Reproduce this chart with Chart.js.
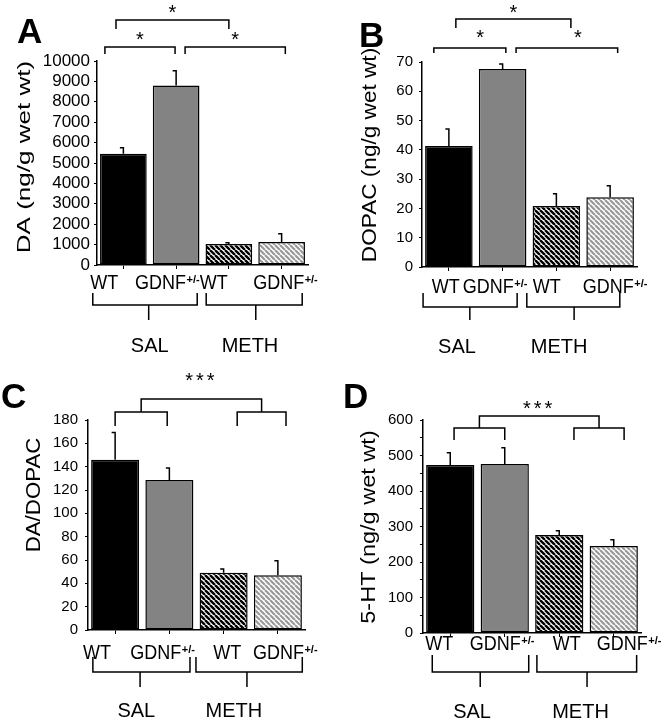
<!DOCTYPE html>
<html>
<head>
<meta charset="utf-8">
<script src="https://cdn.jsdelivr.net/npm/chart.js@4.4.1/dist/chart.umd.min.js"></script>
<style>
  html, body { margin: 0; padding: 0; background: #fff; }
  #fig { position: relative; width: 670px; height: 719px; }
  #fig canvas { position: absolute; }
</style>
</head>
<body>
<div id="fig">
  <canvas id="cA" width="335" height="360" style="left:0;top:0"></canvas>
  <canvas id="cB" width="335" height="360" style="left:335px;top:0"></canvas>
  <canvas id="cC" width="335" height="359" style="left:0;top:360px"></canvas>
  <canvas id="cD" width="335" height="359" style="left:335px;top:360px"></canvas>
</div>
<script>
// groups along the x axis, then the two treatments under them
const categories = ['WT', 'GDNF+/-', 'WT', 'GDNF+/-'];
const treatments = ['SAL', 'METH'];

// bar heights and (upper) SEM
const daMean = [5450, 8800, 1030, 1130];
const daSem = [330, 760, 100, 440];
const dopacMean = [41.3, 67.6, 20.8, 23.8];
const dopacSem = [6.1, 2, 4.5, 4.2];
const ratioMean = [146, 128.5, 49, 47];
const ratioSem = [24, 11, 4, 13];
const htMean = [473, 476, 276, 245];
const htSem = [37, 48, 14, 20];

const letters = ['A', 'B', 'C', 'D'];
const yTitles = ['DA (ng/g wet wt)', 'DOPAC (ng/g wet wt)', 'DA/DOPAC', '5-HT (ng/g wet wt)'];
const yMax = [10000, 70, 180, 600];
const yStep = [1000, 10, 20, 50];
const yLabelStep = [1000, 10, 20, 100];

const means = [daMean, dopacMean, ratioMean, htMean];
const sems = [daSem, dopacSem, ratioSem, htSem];

const FONT = '"Liberation Sans", Arial, sans-serif';

// per-panel layout (canvas pixels / category index units)
const panels = [
  { canvas: 'cA', w: 335, h: 360, area: { l: 97, r: 308, t: 61, b: 265 },
    tickFont: 17, tickPad: 4, letter: [17, 43],
    title: { x: 25, y: 157, size: 19, sx: 1.37 },
    sig: [
      { a: -0.14, b: 2.0, y: -41, drop: 9, star: '*', sy: -54 },
      { a: -0.35, b: 0.98, y: -14, drop: 7, star: '*', sy: -27 },
      { a: 1.17, b: 3.07, y: -14, drop: 7, star: '*', sy: -27 }
    ],
    xl: { pos: [-0.63, 0.22, 1.45, 2.46], cy: 17 },
    grp: { top: 28, bot: 40, stem: 55, text: 80,
      items: [{ a: -0.58, b: 1.40, s: 0.48, t: 0.50 }, { a: 1.57, b: 3.39, s: 2.51, t: 2.40 }] } },
  { canvas: 'cB', w: 335, h: 360, area: { l: 87, r: 302, t: 62, b: 267 },
    tickFont: 15, tickPad: 6, letter: [24, 47],
    title: { x: 35.5, y: 155, size: 20, sx: 1.13 },
    sig: [
      { a: 0.13, b: 2.27, y: -43, drop: 9, star: '*', sy: -55 },
      { a: -0.28, b: 1.06, y: -14, drop: 5, star: '*', sx: 0.58, sy: -30 },
      { a: 1.25, b: 3.14, y: -14, drop: 5, star: '*', sx: 2.40, sy: -30 }
    ],
    xl: { pos: [-0.32, 0.26, 1.56, 2.49], cy: 19 },
    grp: { top: 26, bot: 40, stem: 53, text: 79,
      items: [{ a: -0.48, b: 1.27, s: 0.39, t: 0.15 }, { a: 1.45, b: 3.18, s: 2.33, t: 2.05 }] } },
  { canvas: 'cC', w: 335, h: 359, area: { l: 88, r: 305, t: 60, b: 270 },
    tickFont: 15, tickPad: 7, letter: [1, 48],
    title: { x: 34, y: 135, size: 21, sx: 1.06 },
    sig: [
      { a: 0.0, b: 0.96, y: -8, drop: 14 },
      { a: 2.25, b: 3.15, y: -8, drop: 14 },
      { a: 0.48, b: 2.7, y: -21, drop: 13, star: '***', sy: -45 }
    ],
    xl: { pos: [-0.59, 0.28, 1.81, 2.54], cy: 22 },
    grp: { top: 27, bot: 42, stem: 57, text: 80,
      items: [{ a: -0.41, b: 1.38, s: 0.46, t: 0.39 }, { a: 1.49, b: 3.45, s: 2.43, t: 2.19 }] } },
  { canvas: 'cD', w: 335, h: 359, area: { l: 88, r: 306, t: 60, b: 273 },
    tickFont: 15, tickPad: 7, letter: [8, 48],
    title: { x: 34, y: 167, size: 21, sx: 1.12 },
    sig: [
      { a: 0.07, b: 1.0, y: 8, drop: 12 },
      { a: 2.27, b: 3.19, y: 8, drop: 12 },
      { a: 0.535, b: 2.73, y: -4, drop: 12, star: '***', sy: -17 }
    ],
    xl: { pos: [-0.46, 0.36, 1.88, 2.69], cy: 10 },
    grp: { top: 22, bot: 39, stem: 54, text: 78,
      items: [{ a: -0.33, b: 1.44, s: 0.55, t: 0.40 }, { a: 1.59, b: 3.42, s: 2.51, t: 2.39 }] } }
];

function hatch(ctx, color, lw) {
  const size = 5;
  const c = document.createElement('canvas');
  c.width = size; c.height = size;
  const g = c.getContext('2d');
  g.fillStyle = '#fff';
  g.fillRect(0, 0, size, size);
  g.strokeStyle = color;
  g.lineWidth = lw;
  g.beginPath();
  for (let k = -1; k <= 1; k++) {
    g.moveTo(k * size, 0);
    g.lineTo(k * size + size, size);
  }
  g.stroke();
  return ctx.createPattern(c, 'repeat');
}

function put(ctx, str, x, y, size, o = {}) {
  ctx.save();
  ctx.font = (o.bold ? 'bold ' : '') + size + 'px ' + FONT;
  ctx.fillStyle = '#000';
  ctx.textAlign = o.align || 'left';
  ctx.textBaseline = o.base || 'alphabetic';
  if (o.spacing && 'letterSpacing' in ctx) ctx.letterSpacing = o.spacing;
  ctx.translate(x, y);
  if (o.rot) ctx.rotate(o.rot);
  ctx.scale(o.sx || 1, o.sy || 1);
  ctx.fillText(str, 0, 0);
  const w = ctx.measureText(str).width * (o.sx || 1);
  ctx.restore();
  return w;
}

function deco(P, i) {
  return {
    id: 'deco' + i,
    afterDatasetsDraw(chart) {
      const ctx = chart.ctx;
      const xs = chart.scales.x, ys = chart.scales.y, area = chart.chartArea;
      const px = v => xs.getPixelForValue(v);
      ctx.save();
      ctx.strokeStyle = '#000';
      ctx.lineWidth = 1.5;

      // error bars (upper only, small cap to the left)
      chart.getDatasetMeta(0).data.forEach((bar, k) => {
        const top = ys.getPixelForValue(means[i][k] + sems[i][k]);
        ctx.beginPath();
        ctx.moveTo(bar.x, bar.y);
        ctx.lineTo(bar.x, top);
        ctx.moveTo(bar.x - 3.5, top + 0.75);
        ctx.lineTo(bar.x, top + 0.75);
        ctx.stroke();
      });

      // significance brackets
      P.sig.forEach(s => {
        const yy = area.top + s.y;
        ctx.beginPath();
        ctx.moveTo(px(s.a), yy + s.drop);
        ctx.lineTo(px(s.a), yy);
        ctx.lineTo(px(s.b), yy);
        ctx.lineTo(px(s.b), yy + s.drop);
        ctx.stroke();
        if (s.star) {
          const cx = s.sx !== undefined ? px(s.sx) : (px(s.a) + px(s.b)) / 2;
          put(ctx, s.star, cx, area.top + s.sy + 11.5, 20,
            { align: 'center', spacing: s.star.length > 1 ? '3px' : undefined });
        }
      });

      // category labels with superscript genotype
      categories.forEach((lab, k) => {
        const parts = lab.split(/(?=\+)/);
        const x0 = px(P.xl.pos[k]);
        const base = area.bottom + P.xl.cy + 7.4;
        const w = put(ctx, parts[0], x0, base, 18, { sy: 1.15 });
        if (parts[1]) put(ctx, parts[1], x0 + w + 0.5, base - 6, 11, { bold: true });
      });

      // treatment brackets under the labels
      const G = P.grp;
      G.items.forEach((g, k) => {
        const top = area.bottom + G.top, bot = area.bottom + G.bot;
        ctx.beginPath();
        ctx.moveTo(px(g.a), top);
        ctx.lineTo(px(g.a), bot);
        ctx.lineTo(px(g.b), bot);
        ctx.lineTo(px(g.b), top);
        ctx.moveTo(px(g.s), bot);
        ctx.lineTo(px(g.s), area.bottom + G.stem);
        ctx.stroke();
        put(ctx, treatments[k], px(g.t), area.bottom + G.text + 7.2, 20, { align: 'center' });
      });

      // y axis title and panel letter
      const T = P.title;
      put(ctx, yTitles[i], T.x, T.y, T.size,
        { align: 'center', base: 'middle', rot: -Math.PI / 2, sx: T.sx });
      put(ctx, letters[i], P.letter[0], P.letter[1], 35, { bold: true });
      ctx.restore();
    }
  };
}

panels.forEach((P, i) => {
  const el = document.getElementById(P.canvas);
  const ctx = el.getContext('2d');
  const fills = ['#000000', '#838383', hatch(ctx, '#000', 2.4), hatch(ctx, '#999', 2.2)];
  const xH = 8;
  new Chart(el, {
    type: 'bar',
    data: {
      labels: categories,
      datasets: [{
        data: means[i],
        backgroundColor: fills,
        borderColor: '#000',
        borderWidth: 1.5,
        borderSkipped: false,
        barPercentage: 0.885,
        categoryPercentage: 1
      }]
    },
    options: {
      responsive: false,
      animation: false,
      events: [],
      layout: { padding: { left: 0, top: P.area.t, right: P.w - P.area.r, bottom: P.h - P.area.b - xH } },
      plugins: { legend: { display: false }, tooltip: { enabled: false } },
      scales: {
        x: {
          afterFit: s => { s.height = xH; },
          grid: { offset: false, drawOnChartArea: false, drawTicks: true, tickLength: 4, color: '#000', lineWidth: 1 },
          border: { display: true, color: '#000', width: 1.5 },
          ticks: { display: false }
        },
        y: {
          min: 0,
          max: yMax[i],
          afterFit: s => { s.width = P.area.l; },
          grid: { drawOnChartArea: false, drawTicks: true, tickLength: 3, color: '#000', lineWidth: 1 },
          border: { display: true, color: '#000', width: 1.5 },
          ticks: {
            stepSize: yStep[i],
            autoSkip: false,
            padding: P.tickPad,
            color: '#000',
            font: { family: FONT, size: P.tickFont },
            callback: v => (v % yLabelStep[i] === 0 ? v : '')
          }
        }
      }
    },
    plugins: [deco(P, i)]
  });
});
</script>
</body>
</html>
